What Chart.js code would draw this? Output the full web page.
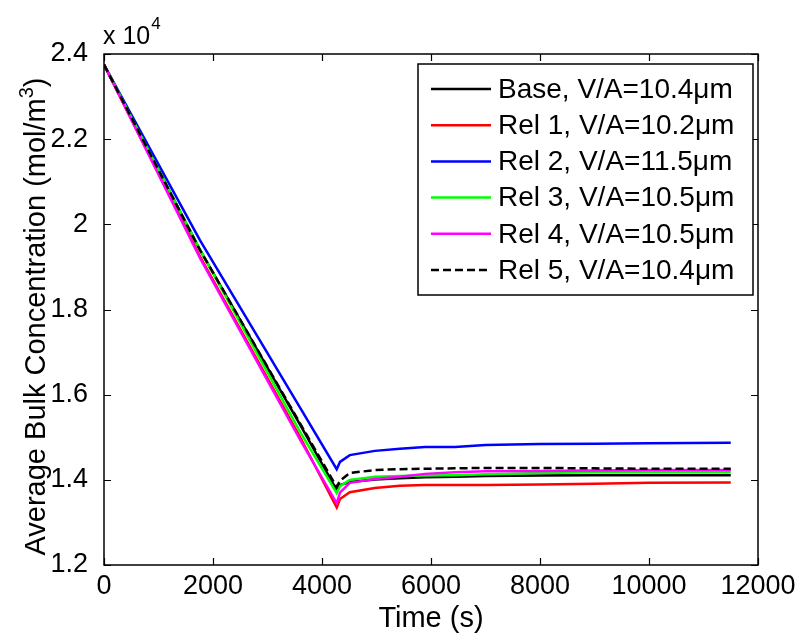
<!DOCTYPE html>
<html>
<head>
<meta charset="utf-8">
<script src="https://cdn.jsdelivr.net/npm/chart.js@4/dist/chart.umd.min.js"></script>
<style>
  html, body { margin: 0; padding: 0; background: #fff; }
  canvas { display: block; }
</style>
</head>
<body>
<canvas id="conc-chart" width="804" height="636"></canvas>
<script>
// 時間 (s) と各ケースの平均バルク濃度 (mol/m3)
const timeS = [0, 1760, 3600, 4270, 4330, 4510, 4970, 5430, 5890, 6440, 7000, 8000, 9000, 10000, 11500];

const baseConc = [23750, 19400, 15290, 13760, 13880, 13950, 14010, 14040, 14060, 14070, 14090, 14100, 14110, 14110, 14110];
const rel1Conc = [23750, 19250, 15000, 13350, 13550, 13710, 13810, 13860, 13880, 13880, 13880, 13890, 13910, 13930, 13940];
const rel2Conc = [23750, 19630, 15690, 14250, 14420, 14580, 14680, 14730, 14770, 14770, 14820, 14840, 14850, 14860, 14870];
const rel3Conc = [23750, 19410, 15120, 13690, 13850, 14000, 14070, 14090, 14100, 14110, 14130, 14160, 14180, 14180, 14180];
const rel4Conc = [23750, 19210, 14940, 13450, 13700, 13930, 14020, 14070, 14140, 14180, 14200, 14210, 14220, 14230, 14230];
const rel5Conc = [23750, 19400, 15320, 13830, 13980, 14160, 14230, 14250, 14260, 14270, 14280, 14280, 14270, 14260, 14260];

const seriesLabels = [
    'Base, V/A=10.4\u03bcm',
    'Rel 1, V/A=10.2\u03bcm',
    'Rel 2, V/A=11.5\u03bcm',
    'Rel 3, V/A=10.5\u03bcm',
    'Rel 4, V/A=10.5\u03bcm',
    'Rel 5, V/A=10.4\u03bcm'
];
const seriesValues = [baseConc, rel1Conc, rel2Conc, rel3Conc, rel4Conc, rel5Conc];
const seriesColors = ['#000000', '#ff0000', '#0000ff', '#00ff00', '#ff00ff', '#000000'];
const seriesDash = [[], [], [], [], [], [8, 4]];

const xTicks = [0, 2000, 4000, 6000, 8000, 10000, 12000];
const yTicks = [12000, 14000, 16000, 18000, 20000, 22000, 24000];

const FONT = 'Arial, "Liberation Sans", Helvetica, sans-serif';

// 点列を作る
function toPoints(values) {
    return values.map((v, i) => ({ x: timeS[i], y: v }));
}

const datasets = seriesValues.map((values, i) => ({
    label: seriesLabels[i],
    data: toPoints(values),
    borderColor: seriesColors[i],
    borderDash: seriesDash[i],
    borderWidth: 2.5,
    pointRadius: 0,
    fill: false,
    tension: 0,
    order: seriesValues.length - i // 後のケースを上に描く
}));

// 枠線・内向き目盛り・軸ラベル・凡例
const boxPlugin = {
    id: 'boxTicks',
    afterDatasetsDraw(chart) {
        const { ctx, chartArea: a, scales } = chart;
        const len = 7;
        ctx.save();
        ctx.strokeStyle = '#000';
        ctx.lineWidth = 1.5;
        ctx.strokeRect(a.left, a.top, a.right - a.left, a.bottom - a.top);
        ctx.lineWidth = 1.2;
        ctx.beginPath();
        xTicks.forEach(t => {
            const px = Math.round(scales.x.getPixelForValue(t)) + 0.5;
            ctx.moveTo(px, a.bottom); ctx.lineTo(px, a.bottom - len);
            ctx.moveTo(px, a.top); ctx.lineTo(px, a.top + len);
        });
        yTicks.forEach(t => {
            const py = Math.round(scales.y.getPixelForValue(t)) + 0.5;
            ctx.moveTo(a.left, py); ctx.lineTo(a.left + len, py);
            ctx.moveTo(a.right, py); ctx.lineTo(a.right - len, py);
        });
        ctx.stroke();
        ctx.restore();
    },
    afterDraw(chart) {
        const { ctx, chartArea: a } = chart;
        ctx.save();
        ctx.fillStyle = '#000';

        // x 軸ラベル
        ctx.font = '29px ' + FONT;
        ctx.textAlign = 'center';
        ctx.textBaseline = 'middle';
        ctx.fillText('Time (s)', (a.left + a.right) / 2, 619);

        // y 軸ラベル (m3 の 3 は上付き)
        const main = 'Average Bulk Concentration (mol/m';
        ctx.save();
        ctx.translate(45, (a.top + a.bottom) / 2 + 7);
        ctx.rotate(-Math.PI / 2);
        ctx.textAlign = 'left';
        ctx.textBaseline = 'alphabetic';
        ctx.font = '29px ' + FONT;
        const wMain = ctx.measureText(main).width;
        const wClose = ctx.measureText(')').width;
        ctx.font = '20px ' + FONT;
        const wSup = ctx.measureText('3').width;
        const total = wMain + wSup + wClose;
        let x0 = -total / 2;
        ctx.font = '29px ' + FONT;
        ctx.fillText(main, x0, 0);
        ctx.font = '20px ' + FONT;
        ctx.fillText('3', x0 + wMain, -12);
        ctx.font = '29px ' + FONT;
        ctx.fillText(')', x0 + wMain + wSup, 0);
        ctx.restore();

        // 指数表示 x 10^4
        ctx.textAlign = 'left';
        ctx.textBaseline = 'alphabetic';
        ctx.font = '25px ' + FONT;
        ctx.fillText('x 10', a.left - 1, 44);
        const w = ctx.measureText('x 10').width;
        ctx.font = '17px ' + FONT;
        ctx.fillText('4', a.left + w, 29);

        // 凡例
        const bx = 418, by = 64, bw = a.right - 5 - bx, bh = 231;
        ctx.fillStyle = '#fff';
        ctx.fillRect(bx, by, bw, bh);
        ctx.strokeStyle = '#000';
        ctx.lineWidth = 1.5;
        ctx.strokeRect(bx, by, bw, bh);
        ctx.font = '28px ' + FONT;
        ctx.textBaseline = 'middle';
        seriesLabels.forEach((label, i) => {
            const y = by + 25 + i * 36.2;
            ctx.beginPath();
            ctx.setLineDash(seriesDash[i]);
            ctx.strokeStyle = seriesColors[i];
            ctx.lineWidth = 2.5;
            ctx.moveTo(bx + 13, y);
            ctx.lineTo(bx + 73, y);
            ctx.stroke();
            ctx.setLineDash([]);
            ctx.fillStyle = '#000';
            ctx.fillText(label, bx + 80, y + 1);
        });
        ctx.restore();
    }
};

const ctx = document.getElementById('conc-chart').getContext('2d');
new Chart(ctx, {
    type: 'line',
    data: { datasets },
    plugins: [boxPlugin],
    options: {
        responsive: false,
        animation: false,
        layout: { padding: { left: 0, top: 54, right: 46, bottom: 0 } },
        plugins: {
            legend: { display: false },
            tooltip: { enabled: false }
        },
        scales: {
            x: {
                type: 'linear',
                min: 0,
                max: 12000,
                afterBuildTicks: scale => { scale.ticks = xTicks.map(v => ({ value: v })); },
                afterFit: scale => { scale.height = 71; },
                grid: { display: false },
                border: { display: false },
                ticks: {
                    color: '#000',
                    font: { family: FONT, size: 27 },
                    padding: -3,
                    maxRotation: 0,
                    autoSkip: false,
                    callback: v => String(v)
                }
            },
            y: {
                type: 'linear',
                min: 12000,
                max: 24000,
                afterBuildTicks: scale => { scale.ticks = yTicks.map(v => ({ value: v })); },
                afterFit: scale => { scale.width = 104; },
                grid: { display: false },
                border: { display: false },
                ticks: {
                    color: '#000',
                    font: { family: FONT, size: 27 },
                    padding: 8,
                    autoSkip: false,
                    callback: v => String(+(v / 1e4).toFixed(1))
                }
            }
        }
    }
});
</script>
</body>
</html>
